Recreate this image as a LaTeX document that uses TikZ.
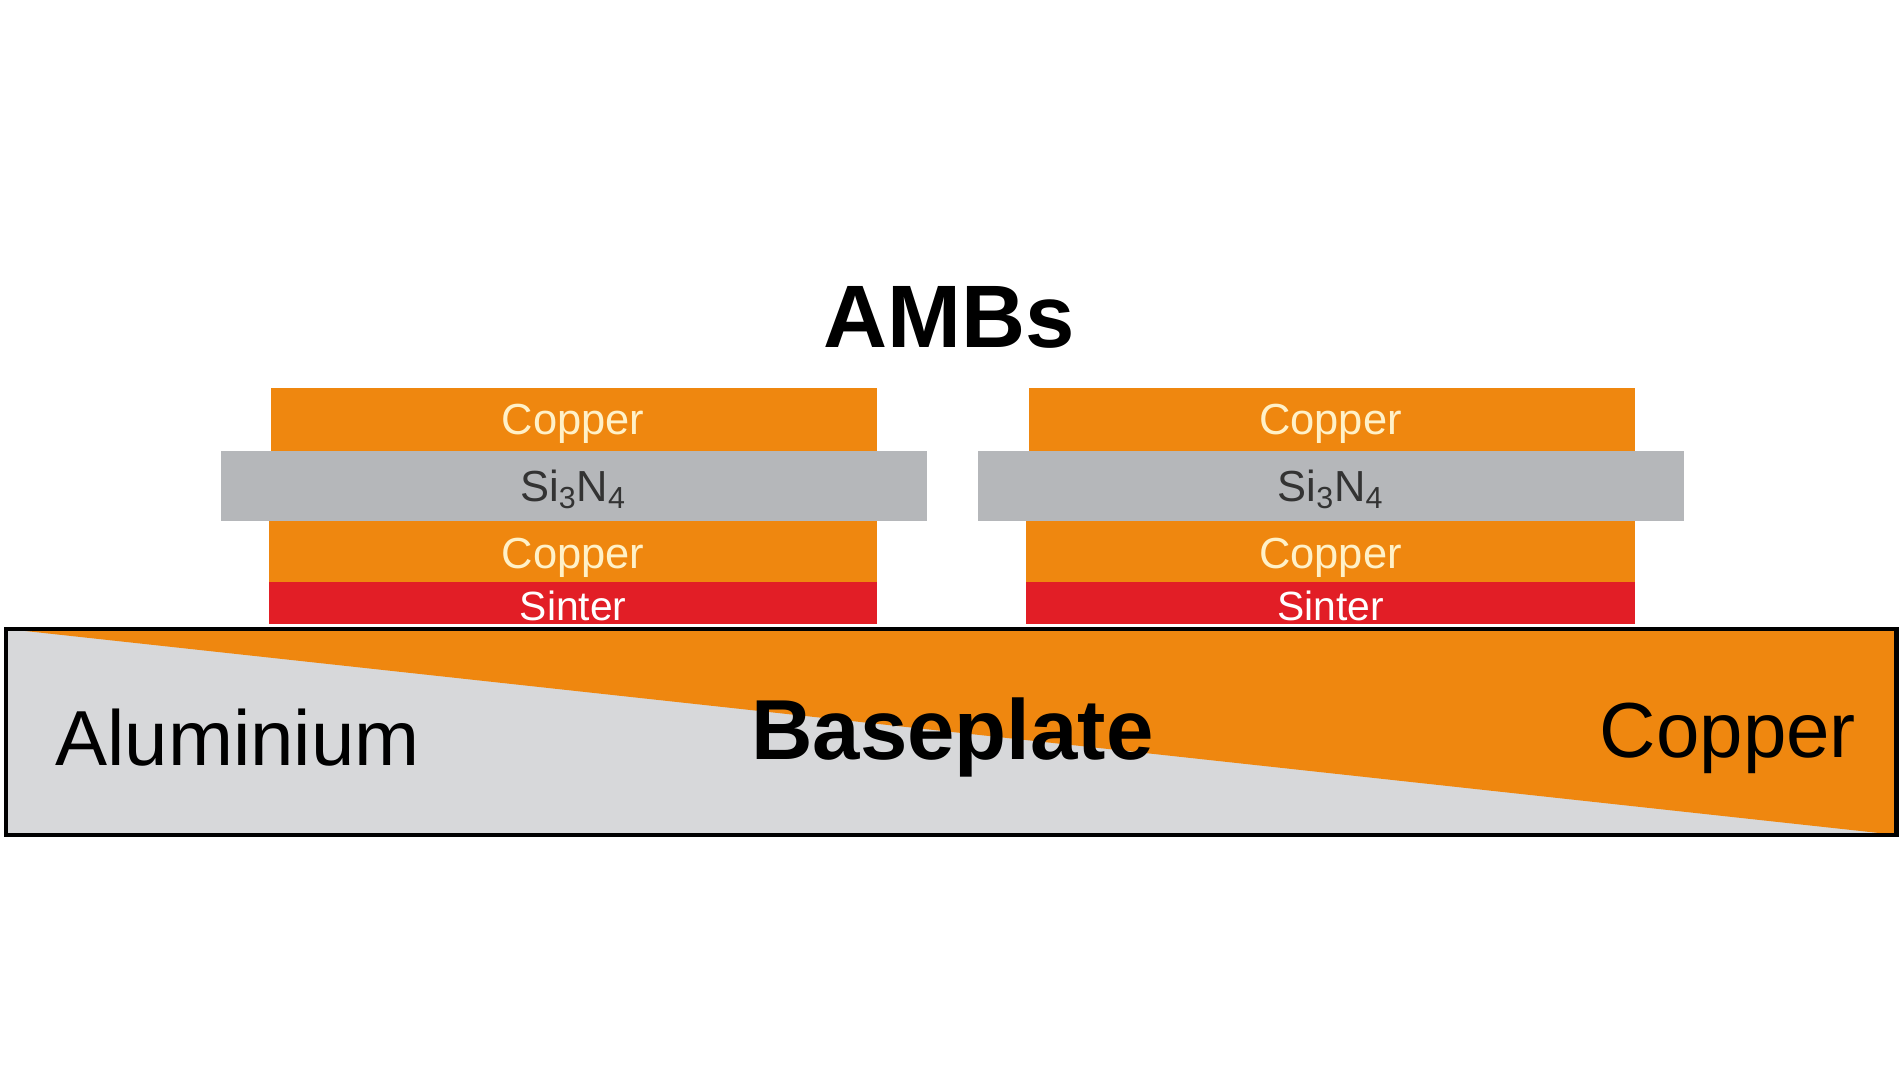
\documentclass[tikz,border=0pt]{standalone}
\usepackage{fontspec}
\setmainfont{Liberation Sans}
\definecolor{cu}{HTML}{EF870F}
\definecolor{sin}{HTML}{B5B7BA}
\definecolor{sint}{HTML}{E21E26}
\definecolor{al}{HTML}{D7D8DA}
\definecolor{lbl}{HTML}{FFF1C8}
\begin{document}
\begin{tikzpicture}[x=0.024cm,y=-0.024cm,
  lay/.style={font=\fontsize{24.5}{26}\selectfont},
  big/.style={font=\fontsize{44}{48}\selectfont}]
\useasboundingbox (0,0) rectangle (1568,885);
% baseplate
\fill[al] (5,519) rectangle (1565,689);
\fill[cu] (5,519) -- (1565,519) -- (1565,689) -- cycle;
\node[draw=black,line width=2.5pt,minimum width=1560*0.024cm,minimum height=170*0.024cm,inner sep=0pt] (bp) at (785,604) {};
\node[big] (al) at (196,609) {Aluminium};
\node[font=\fontsize{48}{52}\selectfont\bfseries] (bpt) at (786,609) {Baseplate};
\node[big] (cut) at (1426,609) {Copper};
\node[font=\fontsize{50}{54}\selectfont\bfseries] (amb) at (783,262) {AMBs};
\foreach \i/\dx in {L/0,R/625}{
  \fill[cu] (224+\dx,320) rectangle (724+\dx,372);
  \fill[sin] (182+\dx,372) rectangle (765+\dx,430);
  \fill[cu] (222+\dx,430) rectangle (724+\dx,480);
  \fill[sint] (222+\dx,480) rectangle (724+\dx,515);
  \node[lay,text=lbl] (c1\i) at (473+\dx,350) {Copper};
  \node[lay,text=black!80] (s\i) at (473+\dx,404) {Si\textsubscript{3}N\textsubscript{4}};
  \node[lay,text=lbl] (c2\i) at (473+\dx,460) {Copper};
  \node[lay,text=white,font=\fontsize{23}{25}\selectfont] (si\i) at (473+\dx,500) {Sinter};
}
\end{tikzpicture}
\end{document}
